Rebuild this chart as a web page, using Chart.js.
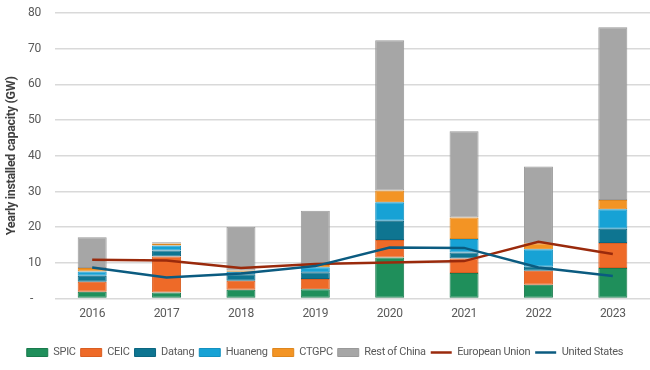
<!DOCTYPE html>
<html>
<head>
<meta charset="utf-8">
<script src="https://cdn.jsdelivr.net/npm/chart.js@4/dist/chart.umd.min.js"></script>
<style>
  html, body { margin: 0; padding: 0; background: #fff; }
  #wrap { width: 650px; height: 370px; position: relative; }
</style>
</head>
<body>
<div id="wrap"><canvas id="c"></canvas></div>
<script>
const categories = ['2016', '2017', '2018', '2019', '2020', '2021', '2022', '2023'];
const spic    = [1.9, 1.7, 2.5, 2.6, 11.5, 7.2, 3.9, 8.6];
const ceic    = [2.8, 10.1, 2.5, 2.9, 4.9, 4.0, 3.9, 7.0];
const datang  = [1.7, 1.7, 1.8, 1.9, 5.4, 1.7, 1.1, 4.0];
const huaneng = [1.2, 1.4, 0.7, 1.4, 5.2, 3.8, 4.9, 5.4];
const ctgpc   = [1.0, 0.5, 0.4, 0.6, 3.3, 6.0, 1.7, 2.6];
const restOfChina = [8.6, 0.4, 12.2, 15.2, 42.1, 24.2, 21.5, 48.4];
const europeanUnion = [10.9, 10.7, 8.6, 9.7, 10.1, 10.5, 15.9, 12.5];
const unitedStates  = [8.7, 5.9, 7.0, 9.1, 14.3, 14.2, 8.7, 6.3];
const yTicks = [0, 10, 20, 30, 40, 50, 60, 70, 80];

const FONT = "Roboto, 'Liberation Sans', sans-serif";

function bar(label, data, fill, border) {
  return { type: 'bar', label, data, backgroundColor: fill, borderColor: border,
           borderWidth: 1, borderSkipped: false, stack: 's', order: 2,
           categoryPercentage: 1.0, barPercentage: 0.39 };
}
function line(label, data, color, order) {
  return { type: 'line', label, data, borderColor: color, backgroundColor: color,
           borderWidth: 2.5, pointRadius: 0, tension: 0, fill: false, order };
}

const tightText = {
  id: 'tightText',
  beforeLayout(chart) { chart.ctx.letterSpacing = '-0.3px'; },
  beforeDraw(chart) { chart.ctx.letterSpacing = '-0.3px'; }
};

new Chart(document.getElementById('c'), {
  data: {
    labels: categories,
    datasets: [
      bar('SPIC', spic, '#1f8f5b', '#1a7a4d'),
      bar('CEIC', ceic, '#ee6a28', '#d95e22'),
      bar('Datang', datang, '#0e7591', '#0c6680'),
      bar('Huaneng', huaneng, '#17a2d5', '#1491c0'),
      bar('CTGPC', ctgpc, '#f39424', '#de861e'),
      bar('Rest of China', restOfChina, '#a6a6a6', '#999999'),
      line('European Union', europeanUnion, '#9a2a0c', 1),
      line('United States', unitedStates, '#0b5b80', 0)
    ]
  },
  plugins: [tightText],
  options: {
    responsive: true,
    maintainAspectRatio: false,
    animation: false,
    layout: { padding: { top: 0, right: 0, bottom: 2, left: 0 } },
    plugins: {
      tooltip: { enabled: false },
      legend: {
        position: 'bottom',
        labels: {
          font: { family: FONT, size: 11 },
          color: '#595959',
          usePointStyle: true,
          pointStyleWidth: 21,
          boxHeight: 8,
          padding: 5,
          sort: (a, b) => a.datasetIndex - b.datasetIndex,
          generateLabels: (chart) => {
            const items = Chart.defaults.plugins.legend.labels.generateLabels(chart);
            items.forEach(it => {
              const ds = chart.data.datasets[it.datasetIndex];
              it.pointStyle = ds.type === 'line' ? 'line' : 'rect';
              it.lineWidth = ds.type === 'line' ? 2.5 : 1;
            });
            return items;
          }
        }
      }
    },
    scales: {
      x: {
        grid: { display: false, drawTicks: false },
        border: { display: false },
        ticks: { font: { family: FONT, size: 12 }, color: '#595959', padding: 8 },
        afterFit: (s) => { s.height += 13; }
      },
      y: {
        min: 0, max: 80,
        afterBuildTicks: (s) => { s.ticks = yTicks.map(v => ({ value: v })); },
        afterFit: (s) => { s.width = 55; s.paddingTop = 13; s.paddingBottom = 7; },
        grid: { color: '#d9d9d9', lineWidth: 1.5, drawTicks: false },
        border: { display: false },
        ticks: {
          font: { family: FONT, size: 12 }, color: '#595959', padding: 14,
          callback: (v) => v === 0 ? '-   ' : v
        },
        title: {
          display: true, text: 'Yearly installed capacity (GW)',
          font: { family: FONT, size: 12.5, weight: 'bold' }, color: '#404040',
          padding: { top: 4, bottom: 0 }
        }
      }
    }
  }
});
</script>
</body>
</html>
